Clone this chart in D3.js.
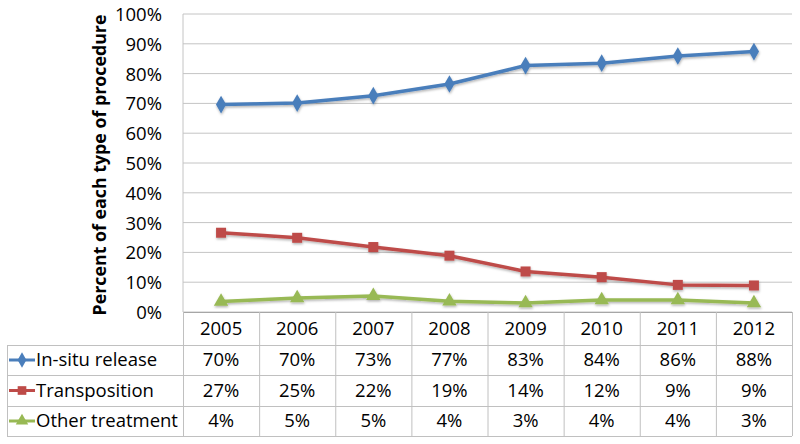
<!DOCTYPE html>
<html><head><meta charset="utf-8">
<script src="https://cdn.jsdelivr.net/npm/d3@7"></script>
<style>body{margin:0;background:#fff}svg{display:block}text{font-family:"Open Sans","Noto Sans",sans-serif;fill:#000}</style>
</head><body><svg id="c" width="800" height="444"></svg>
<script>
const years = ["2005","2006","2007","2008","2009","2010","2011","2012"];
const seriesNames = ["In-situ release","Transposition","Other treatment"];
const inSitu = [69.6, 70.1, 72.6, 76.5, 82.7, 83.5, 85.9, 87.4];
const transposition = [26.6, 24.9, 21.8, 18.9, 13.6, 11.7, 9.1, 8.9];
const other = [3.5, 4.7, 5.4, 3.6, 3.0, 4.0, 4.0, 3.0];
const inSituLabels = ["70%","70%","73%","77%","83%","84%","86%","88%"];
const transLabels = ["27%","25%","22%","19%","14%","12%","9%","9%"];
const otherLabels = ["4%","5%","5%","4%","3%","4%","4%","3%"];
const yTicks = [0,10,20,30,40,50,60,70,80,90,100];
const colors = ["#4a7ebb","#be4b48","#98b954"];

const FS = "18.5px";
const svg = d3.select("#c");
const L = 183, R = 792, T = 14, B = 312;
const x = d3.scaleBand().domain(years).range([L, R]);
const y = d3.scaleLinear().domain([0,100]).range([B, T]);

// gridlines
svg.append("g").selectAll("line").data(yTicks).join("line")
  .attr("x1", L).attr("x2", R).attr("y1", d=>y(d)).attr("y2", d=>y(d))
  .attr("stroke", "#c4c4c4").attr("stroke-width", 1);
svg.append("line").attr("x1", L).attr("x2", L).attr("y1", T).attr("y2", B).attr("stroke", "#c4c4c4");

// y axis labels
const yAxis = d3.axisLeft(y).tickValues(yTicks).tickFormat(d=>d+"%").tickSize(0).tickPadding(21);
const ya = svg.append("g").attr("transform", `translate(${L},0)`).call(yAxis);
ya.select(".domain").remove();
ya.selectAll("text").style("font-size",FS).attr("font-family",null).attr("fill","#000").attr("dy","0.35em");

svg.append("text").attr("transform", `translate(106,${(T+B)/2+2}) rotate(-90)`)
  .attr("text-anchor","middle").style("font-size","17.8px").style("font-weight","bold")
  .text("Percent of each type of procedure");

// shadow filter
const defs = svg.append("defs");
const f = defs.append("filter").attr("id","sh").attr("x","-20%").attr("y","-20%").attr("width","140%").attr("height","160%");
f.append("feDropShadow").attr("dx",0.5).attr("dy",1.5).attr("stdDeviation",1).attr("flood-color","#000").attr("flood-opacity",0.3);

const data = [inSitu, transposition, other];
const shapes = [d3.symbolDiamond, d3.symbolSquare, d3.symbolTriangle];
const sizes = [90, 100, 90];
const cx = d => x(d) + x.bandwidth()/2;
const line = d3.line().x((d,i)=>cx(years[i])).y(d=>y(d));

data.forEach((vals, si) => {
  const g = svg.append("g").attr("filter","url(#sh)");
  g.append("path").attr("d", line(vals)).attr("fill","none").attr("stroke", colors[si]).attr("stroke-width", 3.5).attr("stroke-linejoin","round");
  g.selectAll("path.m").data(vals).join("path").attr("class","m")
    .attr("transform",(d,i)=>`translate(${cx(years[i])},${y(d)})`)
    .attr("d", d3.symbol().type(shapes[si]).size(sizes[si])())
    .attr("fill", colors[si]);
});

// table
const tL = 7, rowTops = [312, 345, 375, 406, 436];
const tg = svg.append("g");
const gridC = "#c0c0c0";
rowTops.forEach((ry, i) => {
  tg.append("line").attr("x1", i===0 ? L : tL).attr("x2", R).attr("y1", ry+0.5).attr("y2", ry+0.5)
    .attr("stroke", i===0 ? "#a6a6a6" : gridC);
});
const vx = years.map(d=>x(d)).concat([R]);
vx.forEach(vv => tg.append("line").attr("x1", vv+0.5).attr("x2", vv+0.5).attr("y1", 312).attr("y2", 436).attr("stroke", gridC));
tg.append("line").attr("x1", tL+0.5).attr("x2", tL+0.5).attr("y1", 345).attr("y2", 436).attr("stroke", gridC);

tg.selectAll("text.yr").data(years).join("text").attr("class","yr")
  .attr("x", d=>cx(d)).attr("y", (rowTops[0]+rowTops[1])/2).attr("dy","0.35em")
  .attr("text-anchor","middle").style("font-size",FS).text(d=>d);

const labels = [inSituLabels, transLabels, otherLabels];
labels.forEach((lab, si) => {
  const my = (rowTops[si+1]+rowTops[si+2])/2;
  tg.selectAll(`text.v${si}`).data(lab).join("text").attr("class",`v${si}`)
    .attr("x", (d,i)=>cx(years[i])).attr("y", my).attr("dy","0.35em")
    .attr("text-anchor","middle").style("font-size",FS).text(d=>d);
  tg.append("line").attr("x1", 9).attr("x2", 35).attr("y1", my).attr("y2", my).attr("stroke", colors[si]).attr("stroke-width", 3);
  tg.append("path").attr("transform", `translate(22,${my})`)
    .attr("d", d3.symbol().type(shapes[si]).size(sizes[si]*0.75)()).attr("fill", colors[si]);
  tg.append("text").attr("x", 36).attr("y", my).attr("dy","0.35em").style("font-size",FS).text(seriesNames[si]);
});
</script></body></html>
